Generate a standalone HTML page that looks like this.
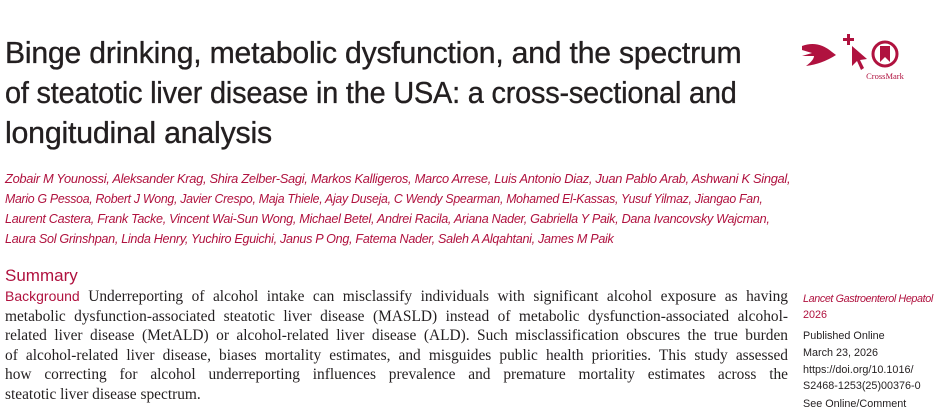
<!DOCTYPE html>
<html><head><meta charset="utf-8"><style>
body{margin:0;width:950px;height:409px;background:#fff;position:relative;overflow:hidden}
.l{position:absolute;white-space:nowrap}
.t{font-family:"Liberation Sans",sans-serif;font-size:30.3px;color:#231f20;left:5px;letter-spacing:-0.2px;-webkit-text-stroke:0.35px #231f20;transform-origin:0 0}
.a{font-family:"Liberation Sans",sans-serif;font-style:italic;font-size:12.6px;color:#b0123f;left:5px;letter-spacing:-0.3px;transform-origin:0 0}
.b{font-family:"Liberation Serif",serif;font-size:15.4px;color:#231f20;left:5px;width:783px;text-align:justify;text-align-last:justify}
.s{font-family:"Liberation Sans",sans-serif;font-size:10.8px;color:#231f20;left:803px}
</style></head><body>
<div class="l t" style="top:37px;transform:scaleX(0.995)">Binge drinking, metabolic dysfunction, and the spectrum</div>
<div class="l t" style="top:77px;transform:scaleX(0.953)">of steatotic liver disease in the USA: a cross-sectional and</div>
<div class="l t" style="top:117px">longitudinal analysis</div>

<svg style="position:absolute;left:800px;top:30px" width="120" height="55" viewBox="0 0 120 55">
<path d="M2,16 Q18,10 32,22 L36,25 Q22,34 6,36 Q14,30 14,26 L2,26 L12,23 L2,20 Z" fill="#b0123f"/>
<rect x="47" y="4" width="3" height="11" fill="#b0123f"/><rect x="43" y="8" width="11" height="3" fill="#b0123f"/>
<path d="M52,16 L52,36 L57,31 L61,40 L64,38 L60,30 L67,29 Z" fill="#b0123f"/>
<circle cx="85" cy="24" r="12" fill="none" stroke="#b0123f" stroke-width="3"/>
<path d="M80,16 L90,16 L90,32 L85,27 L80,32 Z" fill="#b0123f"/>
<text x="85" y="49" font-family="Liberation Serif,serif" font-size="8.5" fill="#b0123f" text-anchor="middle">CrossMark</text>
</svg>

<div class="l a" style="top:172px;transform:scaleX(1.023)">Zobair M Younossi, Aleksander Krag, Shira Zelber-Sagi, Markos Kalligeros, Marco Arrese, Luis Antonio Diaz, Juan Pablo Arab, Ashwani K Singal,</div>
<div class="l a" style="top:192px;transform:scaleX(0.979)">Mario G Pessoa, Robert J Wong, Javier Crespo, Maja Thiele, Ajay Duseja, C Wendy Spearman, Mohamed El-Kassas, Yusuf Yilmaz, Jiangao Fan,</div>
<div class="l a" style="top:212px">Laurent Castera, Frank Tacke, Vincent Wai-Sun Wong, Michael Betel, Andrei Racila, Ariana Nader, Gabriella Y Paik, Dana Ivancovsky Wajcman,</div>
<div class="l a" style="top:232px">Laura Sol Grinshpan, Linda Henry, Yuchiro Eguichi, Janus P Ong, Fatema Nader, Saleh A Alqahtani, James M Paik</div>

<div class="l" style="top:266px;left:5px;font-family:'Liberation Sans',sans-serif;font-size:17px;color:#b0123f">Summary</div>
<div class="l b" style="top:288px"><span style="font-family:'Liberation Sans',sans-serif;color:#b0123f;font-size:14px">Background</span> Underreporting of alcohol intake can misclassify individuals with significant alcohol exposure as having</div>
<div class="l b" style="top:307.5px">metabolic dysfunction-associated steatotic liver disease (MASLD) instead of metabolic dysfunction-associated alcohol-</div>
<div class="l b" style="top:327px">related liver disease (MetALD) or alcohol-related liver disease (ALD). Such misclassification obscures the true burden</div>
<div class="l b" style="top:346.5px">of alcohol-related liver disease, biases mortality estimates, and misguides public health priorities. This study assessed</div>
<div class="l b" style="top:366px">how correcting for alcohol underreporting influences prevalence and premature mortality estimates across the</div>
<div class="l" style="top:385.5px;left:5px;font-family:'Liberation Serif',serif;font-size:15.4px;color:#231f20">steatotic liver disease spectrum.</div>

<div class="l s" style="top:293px;color:#b0123f;font-style:italic;letter-spacing:-0.4px">Lancet Gastroenterol Hepatol</div>
<div class="l s" style="top:309px;color:#b0123f">2026</div>
<div class="l s" style="top:330px">Published Online</div>
<div class="l s" style="top:347px">March 23, 2026</div>
<div class="l s" style="top:364px">https://doi.org/10.1016/</div>
<div class="l s" style="top:380px">S2468-1253(25)00376-0</div>
<div class="l s" style="top:398px">See Online/Comment</div>
</body></html>
